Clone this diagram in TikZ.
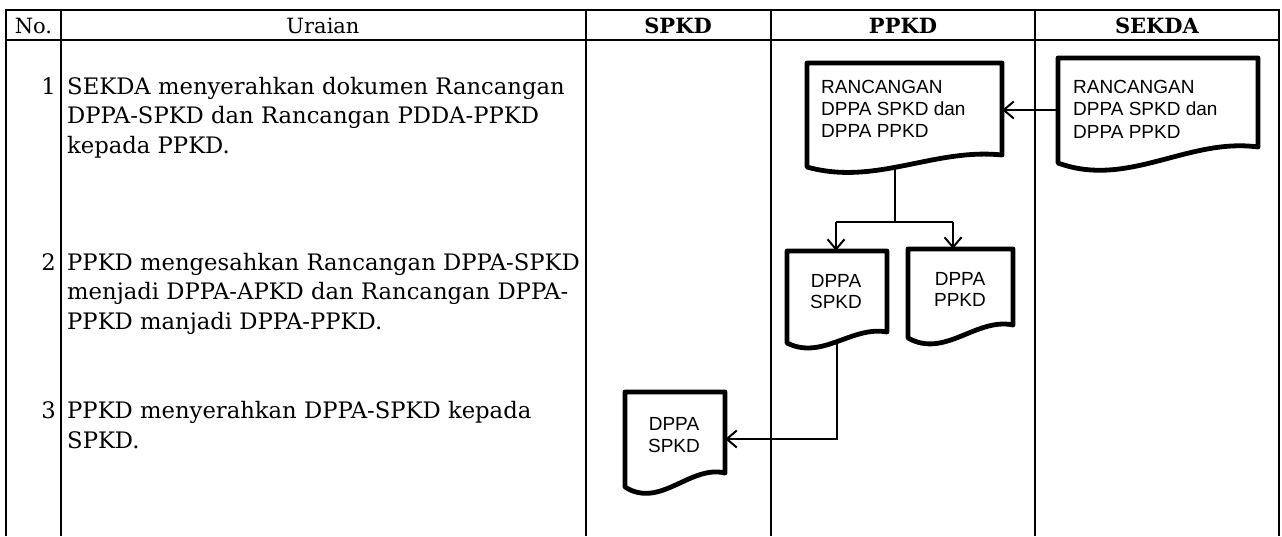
\documentclass[tikz,border=0pt]{standalone}
\usepackage{fontspec}
\setmainfont{DejaVu Serif}
\newfontfamily\docfont{Liberation Sans}
\usetikzlibrary{fit,arrows.meta}
\newcommand\DocShape[6]{% name, x1, y1, x2, yL, yR
  \draw[docline] (#2,#3) -- (#4,#3) -- (#4,#6)
    .. controls ({#4-0.35*(#4-#2)},{#6-0.6*(#5-#6)}) and ({#2+0.35*(#4-#2)},{#5+1.6*(#5-#6)}) .. (#2,#5) -- cycle;
  \node[fit={(#2,#3) (#4,#5)}, inner sep=0pt] (#1) {};
}
\begin{document}
\begin{tikzpicture}[x=1pt,y=-1pt,
  grid/.style={line width=2.5pt},
  docline/.style={line width=4.8pt, line join=round},
  conn/.style={line width=2pt},
  arr/.style={conn,-{Straight Barb[length=10pt,width=17pt,line width=2pt]}},
  body/.style={font=\fontsize{22.7}{29.5}\selectfont, anchor=base west, inner sep=0pt},
  num/.style={font=\fontsize{22.7}{29.5}\selectfont, anchor=base east, inner sep=0pt},
  head/.style={font=\fontsize{21}{24}\selectfont, anchor=base, inner sep=0pt},
  dtext/.style={font=\docfont\fontsize{19}{22}\selectfont, anchor=base west, inner sep=0pt},
  dctext/.style={font=\docfont\fontsize{19}{22}\selectfont, anchor=base, inner sep=0pt}]
\useasboundingbox (0,0) rectangle (1282,536);
% table
\draw[grid] (6,536) -- (6,10) -- (1279,10) -- (1279,536);
\draw[grid] (6,40) -- (1279,40);
\foreach \x in {61,586,771,1035} \draw[grid] (\x,10) -- (\x,536);
\node[head] (hno) at (33.5,33) {No.};
\node[head] (hur) at (323,33) {Uraian};
\node[head] (hsp) at (678,33) {\bfseries SPKD};
\node[head] (hpp) at (903,33) {\bfseries PPKD};
\node[head] (hse) at (1157,33) {\bfseries SEKDA};
% descriptions
\node[num] (n1) at (56,94) {1};
\node[body] (t1a) at (67,94) {SEKDA menyerahkan dokumen Rancangan};
\node[body] (t1b) at (67,123.5) {DPPA-SPKD dan Rancangan PDDA-PPKD};
\node[body] (t1c) at (67,153) {kepada PPKD.};
\node[num] (n2) at (56,270) {2};
\node[body] (t2a) at (67,270) {PPKD mengesahkan Rancangan DPPA-SPKD};
\node[body] (t2b) at (67,299.5) {menjadi DPPA-APKD dan Rancangan DPPA-};
\node[body] (t2c) at (67,329) {PPKD manjadi DPPA-PPKD.};
\node[num] (n3) at (56,418.5) {3};
\node[body] (t3a) at (67,418.5) {PPKD menyerahkan DPPA-SPKD kepada};
\node[body] (t3b) at (67,448) {SPKD.};
% documents
\DocShape{d1}{807}{63}{1002}{167}{155}
\node[dtext] (d1a) at (821,93) {RANCANGAN};
\node[dtext] (d1b) at (821,115) {DPPA SPKD dan};
\node[dtext] (d1c) at (821,137) {DPPA PPKD};
\DocShape{d2}{1058}{58}{1258}{163}{147}
\node[dtext] (d2a) at (1073,93) {RANCANGAN};
\node[dtext] (d2b) at (1073,115.5) {DPPA SPKD dan};
\node[dtext] (d2c) at (1073,138) {DPPA PPKD};
\DocShape{d3}{787}{251}{887}{343}{332}
\node[dctext] (d3a) at (836,287) {DPPA};
\node[dctext] (d3b) at (836,308) {SPKD};
\DocShape{d4}{908}{249}{1013}{338}{325}
\node[dctext] (d4a) at (960,285) {DPPA};
\node[dctext] (d4b) at (960,306) {PPKD};
\DocShape{d5}{625}{392}{725}{487}{473}
\node[dctext] (d5a) at (674,430) {DPPA};
\node[dctext] (d5b) at (674,452) {SPKD};
% connectors
\coordinate (a1) at (1040,110);
\draw[arr] (d2.west |- a1) -- (d1.east |- a1);
\coordinate (j1) at (895,222);
\draw[conn] (j1 |- d1.south) -- (j1);
\coordinate (jl) at (836,222);
\coordinate (jr) at (953,222);
\draw[conn] (jl) -- (jr);
\draw[arr] (jl) -- (jl |- d3.north);
\draw[arr] (jr) -- (jr |- d4.north);
\coordinate (k1) at (837,439);
\draw[arr] (k1 |- d3.south) -- (k1) -- (d5.east |- k1);
\end{tikzpicture}
\end{document}
